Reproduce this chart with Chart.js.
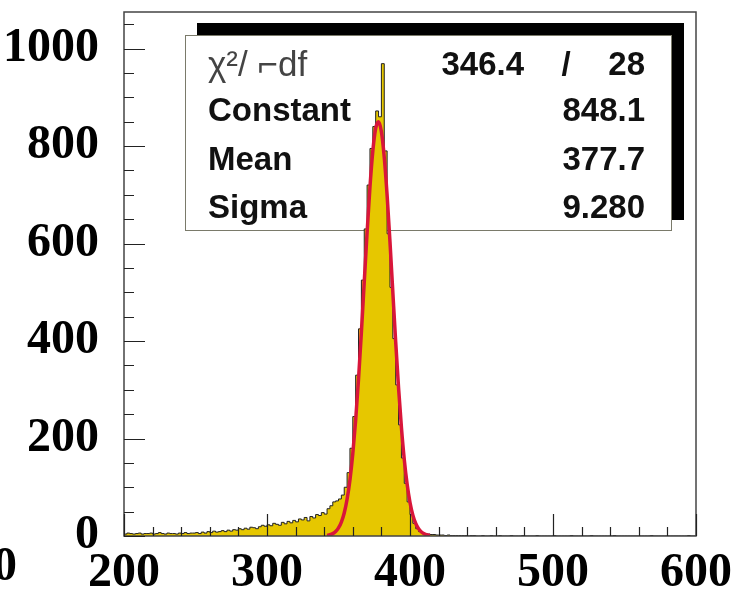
<!DOCTYPE html>
<html>
<head>
<meta charset="utf-8">
<script src="https://cdn.jsdelivr.net/npm/chart.js@4.4.1/dist/chart.umd.min.js"></script>
<style>
  html, body { margin: 0; padding: 0; background: #fff; }
  #wrap { width: 732px; height: 592px; }
</style>
</head>
<body>
<div id="wrap"><canvas id="c" width="732" height="592"></canvas></div>
<script>
// ── Datos ─────────────────────────────────────────────────────────
const histStart = 200;
const histEnd = 600;
const binWidth = 2;
const counts = [
  5,4,6,5,4,5,6,4,5,5, 6,4,5,7,5,4,6,5,5,4, 6,5,7,5,6,
  6,7,5,8,6,9,7,10,8,9, 11,9,12,10,13,
  12,15,13,16,14,18,17,15,19,22,
  20,23,21,26,24,22,28,25,30,27,
  32,29,35,33,38,31,40,37,44,42,
  48,45,56,62,70,
  72,76,84,100,130,180,245,330,425,525,
  630,720,795,840,872,860,969,790,620,510,
  405,310,228,160,108,70,44,26,15,9, 6,5,
  4,3,3,2,2,2,1,2,1,1,1,1,1,
  1,0,1,1,0,0,1,0,0,1,
  0,0,1,0,0,0,1,0,0,0,
  1,0,0,0,0,1,0,0,0,0,
  0,1,0,0,0,0,0,1,0,0,
  0,0,0,0,1,0,0,0,0,0,
  0,0,1,0,0,0,0,0,0,0,
  0,0,0,0,0,1,0,0,0,0,
  0,0,0,0,0,0,0,0,1,0
];
const fitX = [342,344,346,348,350,352,354,356,358,360,362,364,366,368,370,372,374,376,378,
              380,382,384,386,388,390,392,394,396,398,400,402,404,406,408,410,412,414];
const fitY = [1.2,2.5,4.9,9.2,16.5,28.5,47.2,75.3,115.0,168.9,237.7,321.7,417.8,520.7,623.2,716.0,789.6,836.1,849.8,
              829.3,776.8,698.6,603.2,500.0,397.8,303.9,222.8,156.8,106.0,68.8,42.8,25.6,14.7,8.1,4.3,2.2,1.1];
const yMax = 1075;
const xLabelStep = 100;
const yLabelStep = 200;
const statNames = ['Constant', 'Mean', 'Sigma'];
const statValues = ['848.1', '377.7', '9.280'];
const chiLabel = 'χ²/ ⌐df';
const chiValue = '346.4';
const ndfValue = '28';

const YELLOW = '#e6c700';
const RED = '#d9163a';
const LABEL_FONT = { family: '"Liberation Serif", "Times New Roman", serif', size: 48, weight: 'bold' };

// puntos del histograma (escalones)
const histPoints = counts.map((v, i) => ({ x: histStart + i * binWidth, y: v }));
histPoints.push({ x: histEnd, y: counts[counts.length - 1] });
const fitPoints = fitX.map((x, i) => ({ x, y: fitY[i] }));

// ── Caja de estadisticas, marco y ticks ───────────────────────────
const rootStyle = {
  id: 'rootStyle',
  beforeDatasetsDraw(chart) {
    const ctx = chart.ctx;
    ctx.save();
    ctx.fillStyle = '#000';
    ctx.fillRect(197, 23, 487, 197);
    ctx.fillStyle = '#fff';
    ctx.fillRect(185, 35, 487, 196);
    ctx.strokeStyle = '#7a7a6a';
    ctx.lineWidth = 1;
    ctx.strokeRect(185.5, 35.5, 486, 195);

    ctx.textBaseline = 'alphabetic';
    ctx.fillStyle = '#444';
    ctx.font = '35px "Liberation Sans", Arial, sans-serif';
    ctx.textAlign = 'left';
    ctx.fillText(chiLabel, 208, 76);
    ctx.fillStyle = '#111';
    ctx.font = 'bold 33px "Liberation Sans", Arial, sans-serif';
    ctx.textAlign = 'right';
    ctx.fillText(chiValue, 524, 75);
    ctx.textAlign = 'center';
    ctx.fillText('/', 566, 75);
    ctx.textAlign = 'right';
    ctx.fillText(ndfValue, 645, 75);
    statNames.forEach((n, i) => {
      const y = 121 + i * 48.5;
      ctx.textAlign = 'left';
      ctx.fillText(n, 208, y);
      ctx.textAlign = 'right';
      ctx.fillText(statValues[i], 645, y);
    });
    ctx.restore();
  },
  afterDatasetsDraw(chart) {
    const ctx = chart.ctx;
    const a = chart.chartArea;
    const xs = chart.scales.x, ys = chart.scales.y;
    ctx.save();
    ctx.strokeStyle = '#444';
    ctx.lineWidth = 1.5;
    ctx.strokeRect(a.left, a.top, a.right - a.left, a.bottom - a.top);

    ctx.lineWidth = 1.2;
    ctx.strokeStyle = '#222';
    ctx.beginPath();
    for (let v = histStart; v <= histEnd; v += 20) {
      const px = Math.round(xs.getPixelForValue(v)) + 0.5;
      const len = v % 100 === 0 ? 22 : 9;
      ctx.moveTo(px, a.bottom);
      ctx.lineTo(px, a.bottom - len);
    }
    for (let v = 0; v <= 1050; v += 50) {
      const py = Math.round(ys.getPixelForValue(v)) + 0.5;
      const len = v % 200 === 0 ? 21 : 10;
      ctx.moveTo(a.left, py);
      ctx.lineTo(a.left + len, py);
    }
    ctx.stroke();

    // etiqueta cortada a la izquierda
    ctx.fillStyle = '#000';
    ctx.font = 'bold 48px "Liberation Serif", "Times New Roman", serif';
    ctx.textAlign = 'center';
    ctx.textBaseline = 'middle';
    ctx.fillText(String(histStart - xLabelStep), xs.getPixelForValue(histStart - xLabelStep), 568);
    ctx.restore();
  }
};

// ── Grafico ───────────────────────────────────────────────────────
new Chart(document.getElementById('c'), {
  type: 'line',
  data: {
    datasets: [
      {
        data: fitPoints, borderColor: RED, borderWidth: 3.5, pointRadius: 0,
        fill: false, cubicInterpolationMode: 'monotone',
      },
      {
        data: histPoints, stepped: 'after', fill: 'origin',
        backgroundColor: YELLOW, borderColor: '#222', borderWidth: 1, pointRadius: 0,
      },
    ],
  },
  options: {
    responsive: false, animation: false,
    layout: { padding: { top: 12, right: 36, left: 0, bottom: 0 } },
    plugins: { legend: { display: false }, tooltip: { enabled: false } },
    scales: {
      x: {
        type: 'linear', min: histStart, max: histEnd,
        grid: { display: false }, border: { display: false },
        ticks: {
          stepSize: xLabelStep, color: '#000', font: LABEL_FONT, padding: 1,
          maxRotation: 0, autoSkip: false, callback: v => String(v),
        },
        afterFit: s => { s.height = 56; s.paddingLeft = 0; s.paddingRight = 0; },
      },
      y: {
        min: 0, max: yMax,
        grid: { display: false }, border: { display: false },
        ticks: {
          stepSize: yLabelStep, includeBounds: false, color: '#000', font: LABEL_FONT,
          padding: 17, callback: v => String(v),
        },
        afterFit: s => { s.width = 124; s.paddingTop = 0; s.paddingBottom = 0; },
      },
    },
  },
  plugins: [rootStyle],
});
</script>
</body>
</html>
